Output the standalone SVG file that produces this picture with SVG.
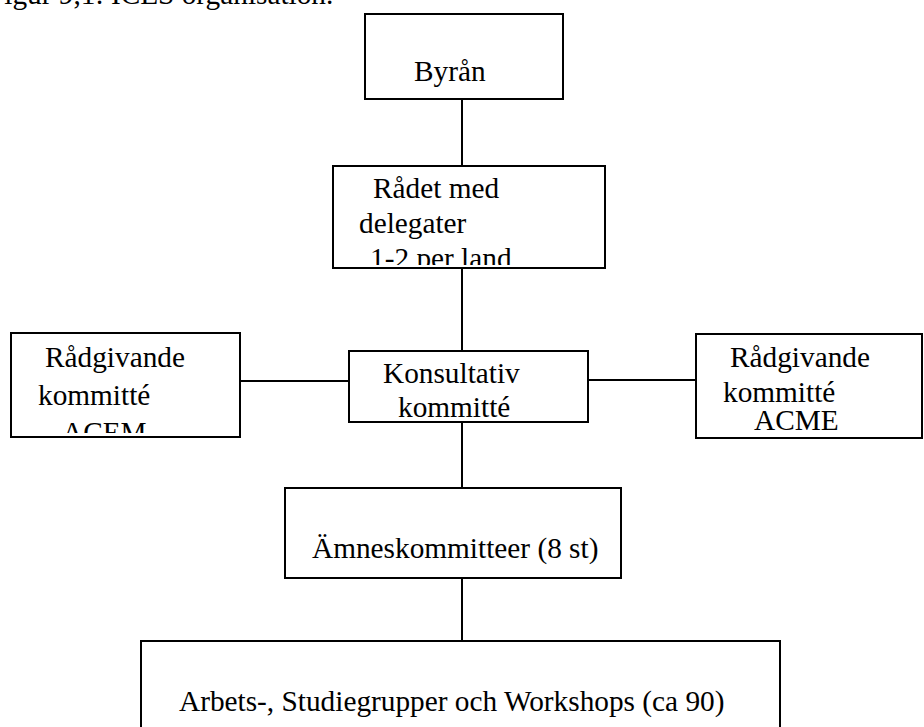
<svg xmlns="http://www.w3.org/2000/svg" width="924" height="727" viewBox="0 0 924 727">
<style>
text{font-family:"Liberation Serif","Times New Roman",serif;font-size:29.3px;fill:#000}
.box{fill:#fff;stroke:#000;stroke-width:2}
.con line{stroke:#000;stroke-width:2}
</style>
<defs>
<clipPath id="cRadet"><rect x="333" y="166" width="272" height="99"/></clipPath>
<clipPath id="cAcem"><rect x="11" y="333" width="229" height="100"/></clipPath>
</defs>
<rect width="924" height="727" fill="#fff"/>
<text id="title" x="-12" y="4">Figur 9,1: ICES organisation.</text>
<g class="con" id="connectors">
<line x1="462" y1="100" x2="462" y2="166"/>
<line x1="462" y1="268" x2="462" y2="351"/>
<line x1="240" y1="381" x2="349" y2="381"/>
<line x1="585" y1="380" x2="696" y2="380"/>
<line x1="462" y1="422" x2="462" y2="488"/>
<line x1="462" y1="578" x2="462" y2="641"/>
</g>
<g id="byran"><rect class="box" x="365" y="14" width="198" height="85"/><text x="414" y="81">Byrån</text></g>
<g id="radet"><rect class="box" x="333" y="166" width="272" height="102"/>
<g clip-path="url(#cRadet)"><text x="373" y="198">Rådet med</text><text x="359" y="233">delegater</text><text x="370" y="268">1-2 per land</text></g></g>
<g id="acem"><rect class="box" x="11" y="333" width="229" height="104"/>
<g clip-path="url(#cAcem)"><text x="45" y="367">Rådgivande</text><text x="38" y="405">kommitté</text><text x="62" y="442">ACEM</text></g></g>
<g id="konsultativ"><rect class="box" x="349" y="351" width="239" height="71"/><text x="383" y="383">Konsultativ</text><text x="398" y="417">kommitté</text></g>
<g id="acme"><rect class="box" x="696" y="334" width="226" height="104"/><text x="730" y="367">Rådgivande</text><text x="723" y="402">kommitté</text><text x="754" y="430">ACME</text></g>
<g id="amnes"><rect class="box" x="285" y="488" width="336" height="90"/><text x="312" y="558">Ämneskommitteer (8 st)</text></g>
<g id="arbets"><rect class="box" x="141" y="641" width="639" height="100"/><text x="179" y="711">Arbets-, Studiegrupper och Workshops (ca 90)</text></g>
</svg>
